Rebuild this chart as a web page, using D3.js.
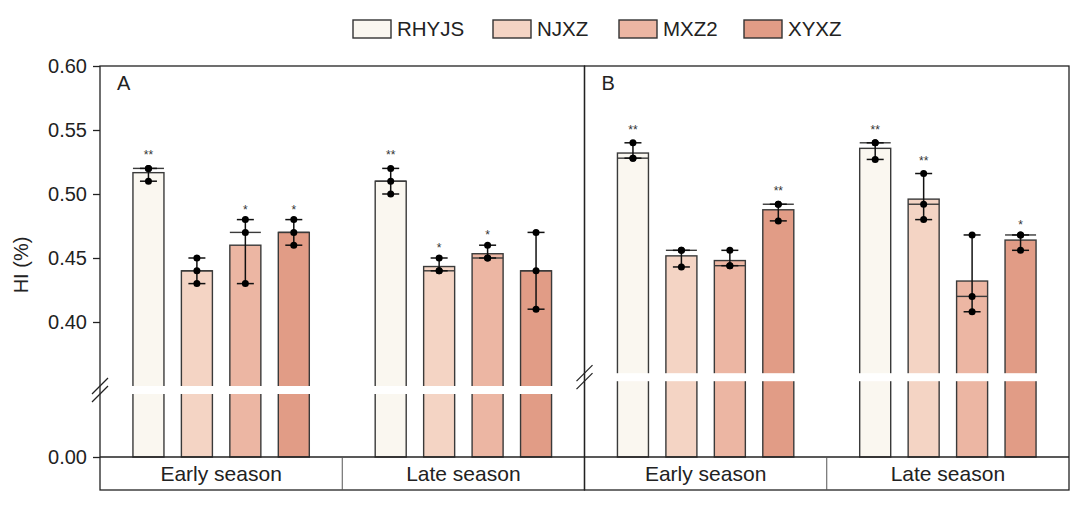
<!DOCTYPE html>
<html>
<head>
<meta charset="utf-8">
<script src="https://cdn.jsdelivr.net/npm/d3@7"></script>
<style>
  html, body { margin: 0; padding: 0; background: #fff; }
  svg { display: block; font-family: "Liberation Sans", Arial, Helvetica, sans-serif; }
</style>
</head>
<body>
<svg id="chart" width="1080" height="512"></svg>
<script>
// ---------------- data ----------------
const series = ["RHYJS", "NJXZ", "MXZ2", "XYXZ"];
const seasons = ["Early season", "Late season"];
const panelLabels = ["A", "B"];
const yTickValues = [0.00, 0.40, 0.45, 0.50, 0.55, 0.60];

// replicate values (three per bar), in series order
const A_early = [[0.52, 0.52, 0.51], [0.45, 0.44, 0.43], [0.48, 0.47, 0.43], [0.48, 0.47, 0.46]];
const A_late  = [[0.52, 0.51, 0.50], [0.45, 0.44, 0.44], [0.46, 0.45, 0.45], [0.47, 0.44, 0.41]];
const B_early = [[0.54, 0.528, 0.528], [0.456, 0.456, 0.443], [0.456, 0.444, 0.444], [0.492, 0.492, 0.479]];
const B_late  = [[0.54, 0.54, 0.527], [0.516, 0.492, 0.48], [0.468, 0.42, 0.408], [0.468, 0.468, 0.456]];

// significance marks
const A_early_sig = ["**", "", "*", "*"];
const A_late_sig  = ["**", "*", "*", ""];
const B_early_sig = ["**", "", "", "**"];
const B_late_sig  = ["**", "**", "", "*"];

// axis break value for each panel
const breakValues = [0.35, 0.36];

// ---------------- styles ----------------
const fills = ["#FAF7F0", "#F4D4C4", "#ECB6A3", "#E19C86"];
const ink = "#222";

const svg = d3.select("#chart");
svg.append("rect").attr("width", 1080).attr("height", 512).attr("fill", "#fff");

const panelData = [
  { label: panelLabels[0], groups: [A_early, A_late], sig: [A_early_sig, A_late_sig], brk: breakValues[0] },
  { label: panelLabels[1], groups: [B_early, B_late], sig: [B_early_sig, B_late_sig], brk: breakValues[1] }
];

const plotTop = 66, base = 457, stripBottom = 490;
const panelX = d3.scaleBand().domain([0, 1]).range([100, 1069]).padding(0);
const yMax = 0.60;
const pxPerUnit = 1280;

// ---------------- legend ----------------
const legend = svg.append("g");
const legendX = [353, 493, 619, 744];
series.forEach((s, i) => {
  const g = legend.append("g").attr("transform", `translate(${legendX[i]},20)`);
  g.append("rect").attr("width", 38).attr("height", 18)
    .attr("fill", fills[i]).attr("stroke", "#333").attr("stroke-width", 1.4);
  g.append("text").attr("x", 44).attr("y", 15.5).attr("font-size", 20.5).attr("fill", ink).text(s);
});

// ---------------- panels ----------------
panelData.forEach((p, pi) => {
  const x0 = panelX(pi), x1 = x0 + panelX.bandwidth();
  const breakY = plotTop + (yMax - p.brk) * pxPerUnit;   // top of break gap
  const y = d3.scaleLinear()
    .domain([0, p.brk - 1e-6, p.brk, yMax])
    .range([base, breakY + 8, breakY, plotTop]);

  const gx = d3.scaleBand().domain(seasons).range([x0, x1]).padding(0);
  const bx = d3.scaleBand().domain(series).range([0, gx.bandwidth()])
    .paddingInner(0.36).paddingOuter(0.68);

  const g = svg.append("g");

  seasons.forEach((season, si) => {
    const gg = g.append("g").attr("transform", `translate(${gx(season)},0)`);
    const rows = p.groups[si].map((vals, k) => ({
      s: series[k], k, vals,
      mean: d3.mean(vals), median: d3.median(vals),
      min: d3.min(vals), max: d3.max(vals), sig: p.sig[si][k]
    }));

    // bars
    gg.selectAll("rect.bar").data(rows).join("rect").attr("class", "bar")
      .attr("x", d => bx(d.s)).attr("width", bx.bandwidth())
      .attr("y", d => y(d.mean)).attr("height", d => y(0) - y(d.mean))
      .attr("fill", d => fills[d.k]).attr("stroke", "#3a3a3a").attr("stroke-width", 1.4);

    // median line
    gg.selectAll("line.med").data(rows).join("line").attr("class", "med")
      .attr("x1", d => bx(d.s)).attr("x2", d => bx(d.s) + bx.bandwidth())
      .attr("y1", d => y(d.median)).attr("y2", d => y(d.median))
      .attr("stroke", "#3a3a3a").attr("stroke-width", 1.4);

    // break gap
    const first = bx(series[0]), last = bx(series[series.length - 1]) + bx.bandwidth();
    gg.append("rect").attr("x", first - 2).attr("width", last - first + 4)
      .attr("y", breakY).attr("height", 8).attr("fill", "#fff");

    // error bars (range)
    const cx = d => bx(d.s) + bx.bandwidth() / 2;
    gg.selectAll("line.err").data(rows).join("line").attr("class", "err")
      .attr("x1", cx).attr("x2", cx)
      .attr("y1", d => y(d.min)).attr("y2", d => y(d.max))
      .attr("stroke", "#111").attr("stroke-width", 1.5);
    ["min", "max"].forEach(key => {
      gg.selectAll("line.cap" + key).data(rows).join("line").attr("class", "cap" + key)
        .attr("x1", d => cx(d) - 8.5).attr("x2", d => cx(d) + 8.5)
        .attr("y1", d => y(d[key])).attr("y2", d => y(d[key]))
        .attr("stroke", "#111").attr("stroke-width", 1.5);
    });

    // replicate dots
    const pts = rows.flatMap(d => d.vals.map(v => ({ d, v })));
    gg.selectAll("circle.pt").data(pts).join("circle").attr("class", "pt")
      .attr("cx", e => cx(e.d)).attr("cy", e => y(e.v)).attr("r", 3.5).attr("fill", "#000");

    // significance stars
    gg.selectAll("text.sig").data(rows.filter(d => d.sig)).join("text").attr("class", "sig")
      .attr("x", cx).attr("y", d => y(d.max) - (d.sig.length > 1 ? 9 : 6))
      .attr("text-anchor", "middle").attr("font-size", 12).attr("fill", "#333")
      .text(d => d.sig);

    // category label
    g.append("text").attr("x", gx(season) + gx.bandwidth() / 2).attr("y", 481)
      .attr("text-anchor", "middle").attr("font-size", 21).attr("fill", ink).text(season);
  });

  // frame
  const frame = g.append("g").attr("fill", "none").attr("stroke", "#222").attr("stroke-width", 1.3);
  frame.append("rect").attr("x", x0).attr("y", plotTop).attr("width", x1 - x0).attr("height", stripBottom - plotTop);
  frame.append("line").attr("x1", x0).attr("x2", x1).attr("y1", base).attr("y2", base);
  frame.append("line").attr("x1", gx(seasons[1])).attr("x2", gx(seasons[1]))
    .attr("y1", base).attr("y2", stripBottom).attr("stroke", "#555").attr("stroke-width", 1);

  // axis break marks
  const bc = breakY + 4;
  [-4, 4].forEach(off => {
    g.append("line").attr("x1", x0 - 8).attr("x2", x0 + 8)
      .attr("y1", bc + off + 8).attr("y2", bc + off - 8)
      .attr("stroke", "#222").attr("stroke-width", 1.2);
  });

  // panel letter
  g.append("text").attr("x", x0 + 17).attr("y", 90).attr("font-size", 20).attr("fill", ink).text(p.label);

  // y axis only on first panel
  if (pi === 0) {
    const axis = d3.axisLeft(y).tickValues(yTickValues).tickFormat(d3.format(".2f"))
      .tickSize(7).tickPadding(6);
    const ga = svg.append("g").attr("transform", `translate(${x0},0)`).call(axis);
    ga.select(".domain").remove();
    ga.selectAll(".tick line").attr("stroke", "#222").attr("stroke-width", 1.3);
    ga.selectAll(".tick text").attr("font-size", 20).attr("fill", ink)
      .attr("font-family", "Liberation Sans, Arial, sans-serif");
  }
});

// y axis title
svg.append("text").attr("transform", "translate(28,265) rotate(-90)")
  .attr("text-anchor", "middle").attr("font-size", 20).attr("fill", ink).text("HI (%)");
</script>
</body>
</html>
